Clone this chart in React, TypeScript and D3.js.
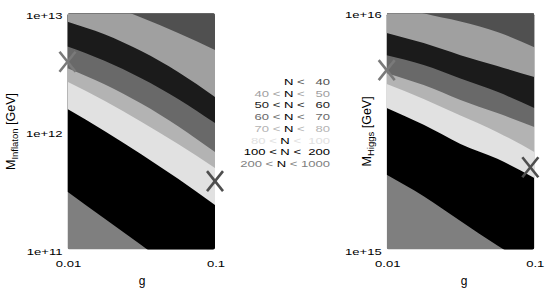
import React from "react";
import * as d3 from "d3";

// coupling g, sampled on a log grid
const gDomain = [0.01, 0.1];
const gTicks = [0.01, 0.1];
const gSamples = [0.01, 0.0178, 0.0316, 0.0562, 0.1];

// contour levels of N (e-folds) and legend ranges
const nLevels = [40, 50, 60, 70, 80, 100, 200];
const nLow = [null, 40, 50, 60, 70, 80, 100, 200];
const nHigh = [40, 50, 60, 70, 80, 100, 200, 1000];

// left panel: M_Inflaton [GeV] of each N contour at gSamples
const inflatonDomain = [1e11, 1e13];
const inflatonTicks = [1e11, 1e12, 1e13];
const inflatonLevels = [
  [1.64e13, 1.23e13, 9.25e12, 6.84e12, 4.91e12], // N = 40
  [8.53e12, 6.67e12, 4.8e12, 3.19e12, 1.96e12], // N = 50
  [5.24e12, 3.97e12, 2.83e12, 1.89e12, 1.18e12], // N = 60
  [3.44e12, 2.52e12, 1.73e12, 1.11e12, 6.7e11], // N = 70
  [2.64e12, 1.82e12, 1.21e12, 7.83e11, 4.91e11], // N = 80
  [1.55e12, 1.01e12, 6.43e11, 3.97e11, 2.38e11], // N = 100
  [3.09e11, 1.83e11, 1.09e11, 6.44e10, 3.81e10], // N = 200
];
const inflatonMarkG = [0.01, 0.1];
const inflatonMarkM = [3.9e12, 3.8e11];

// right panel: M_Higgs [GeV]
const higgsDomain = [1e15, 1e16];
const higgsTicks = [1e15, 1e16];
const higgsLevels = [
  [1.11e16, 1.0e16, 9.23e15, 8.34e15, 7.19e15],
  [8.26e15, 7.48e15, 6.65e15, 5.98e15, 5.37e15],
  [6.65e15, 6.04e15, 5.3e15, 4.65e15, 3.97e15],
  [5.58e15, 4.97e15, 4.3e15, 3.78e15, 3.3e15],
  [5.02e15, 4.34e15, 3.69e15, 3.14e15, 2.59e15],
  [3.97e15, 3.37e15, 2.8e15, 2.42e15, 2.01e15],
  [2.07e15, 1.68e15, 1.32e15, 1.04e15, 8.36e14],
];
const higgsMarkG = [0.01, 0.094];
const higgsMarkM = [5.75e15, 2.23e15];

const bandColors = ["#505050", "#a0a0a0", "#1b1b1b", "#696969", "#b3b3b3", "#e1e1e1", "#000000", "#7f7f7f"];
const markColors = ["#7a7a7a", "#4e4e4e"];
const font = "'Liberation Sans', Arial, sans-serif";
const stretch = 1.36;
const small = 9.6;

function Panel({ id, left, right, top, bottom, domain, ticks, levels, markG, markM, sub, titleX, gLabelX }) {
  const x = d3.scaleLog().domain(gDomain).range([left, right]);
  const y = d3.scaleLog().domain(domain).range([bottom, top]);
  const above = top - 40;
  const area = d3
    .area<number>()
    .x((_, i) => x(gSamples[i]))
    .y0((d) => y(d))
    .y1(above)
    .curve(d3.curveMonotoneX);

  return (
    <g>
      <defs>
        <clipPath id={id}>
          <rect x={left} y={top} width={right - left} height={bottom - top} rx={2} />
        </clipPath>
      </defs>
      <g clipPath={`url(#${id})`}>
        <rect x={left} y={top} width={right - left} height={bottom - top} fill={bandColors[7]} />
        {levels
          .map((lv, k) => ({ lv, k }))
          .reverse()
          .map(({ lv, k }) => (
            <path key={k} d={area(lv)} fill={bandColors[k]} />
          ))}
      </g>

      {markG.map((g, i) => {
        const cx = x(g);
        const cy = y(markM[i]);
        return (
          <g key={i} stroke={markColors[i]} strokeWidth={2.6}>
            <line x1={cx - 8} y1={cy - 10} x2={cx + 8} y2={cy + 10} />
            <line x1={cx + 8} y1={cy - 10} x2={cx - 8} y2={cy + 10} />
          </g>
        );
      })}

      {ticks.map((t) => (
        <text
          key={t}
          transform={`translate(${left - 5},${y(t) + 5}) scale(${stretch},1)`}
          textAnchor="end"
          fontSize={small}
          fontFamily={font}
        >
          {t.toExponential(0)}
        </text>
      ))}
      {gTicks.map((t) => (
        <text
          key={t}
          transform={`translate(${x(t) + 1},${267}) scale(${stretch},1)`}
          textAnchor="middle"
          fontSize={small}
          fontFamily={font}
        >
          {String(t)}
        </text>
      ))}
      <text x={gLabelX} y={285} textAnchor="middle" fontSize={12} fontFamily={font}>
        g
      </text>
      <text
        transform={`translate(${titleX},${(top + bottom) / 2}) rotate(-90)`}
        textAnchor="middle"
        fontSize={12.5}
        fontFamily={font}
      >
        M
        <tspan fontSize={9.5} dy={3}>
          {sub}
        </tspan>
        <tspan dy={-3}> [GeV]</tspan>
      </text>
    </g>
  );
}

function Legend() {
  const rowY = (i) => 85 + i * 11.7;
  return (
    <g fontFamily={font} fontSize={small}>
      {nHigh.map((hi, i) => {
        const lo = nLow[i];
        const c = bandColors[i];
        return (
          <text
            key={i}
            transform={`translate(330,${rowY(i)}) scale(${stretch},1)`}
            textAnchor="end"
            xmlSpace="preserve"
            style={{ whiteSpace: "pre" }}
          >
            {lo !== null && <tspan fill={c}>{`${lo} < `}</tspan>}
            <tspan fill="#000">N</tspan>
            <tspan fill={c}>{` < ${String(hi).padStart(4, " ")}`}</tspan>
          </text>
        );
      })}
    </g>
  );
}

export default function App() {
  return (
    <svg width={545} height={294} style={{ position: "absolute", left: 0, top: 0, background: "#fff" }}>
      <Panel
        id="clipL"
        left={67.5}
        right={215}
        top={13.5}
        bottom={249.5}
        domain={inflatonDomain}
        ticks={inflatonTicks}
        levels={inflatonLevels}
        markG={inflatonMarkG}
        markM={inflatonMarkM}
        sub="Inflaton"
        titleX={15}
        gLabelX={142}
      />
      <Panel
        id="clipR"
        left={386.7}
        right={534.3}
        top={13.3}
        bottom={249.5}
        domain={higgsDomain}
        ticks={higgsTicks}
        levels={higgsLevels}
        markG={higgsMarkG}
        markM={higgsMarkM}
        sub="Higgs"
        titleX={371}
        gLabelX={464}
      />
      <Legend />
    </svg>
  );
}
